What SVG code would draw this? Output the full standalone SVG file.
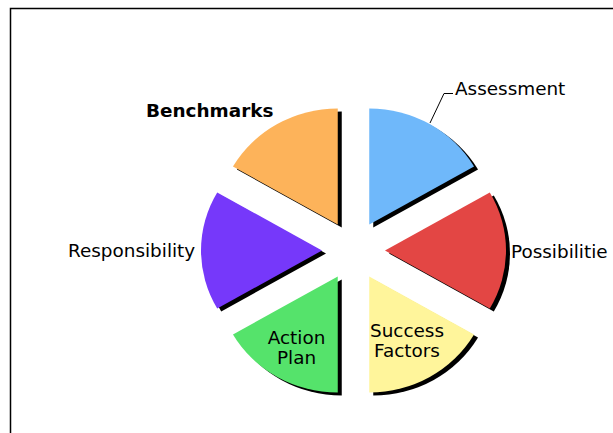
<svg xmlns="http://www.w3.org/2000/svg" xmlns:xlink="http://www.w3.org/1999/xlink" width="613" height="433" viewBox="0 0 613 433">
<style>
  .lbl { font-family: "DejaVu Sans", Verdana, sans-serif; font-size: 18.4px; fill: #000; }
  .bold { font-weight: bold; }
  .shadow { fill: #000; }
  .leader { fill: none; stroke: #000; stroke-width: 1; }
</style>
<defs>
  <path id="w-blue" d="M369.25 224.5 L369.25 108.5 A121 116 0 0 1 474.04 166.5 Z"/>
  <path id="w-red" d="M385 250.5 L489.79 192.5 A121 116 0 0 1 489.79 308.5 Z"/>
  <path id="w-yellow" d="M369.25 276.5 L474.04 334.5 A121 116 0 0 1 369.25 392.5 Z"/>
  <path id="w-green" d="M337.75 276.5 L337.75 392.5 A121 116 0 0 1 232.96 334.5 Z"/>
  <path id="w-purple" d="M322 250.5 L217.21 308.5 A121 116 0 0 1 217.21 192.5 Z"/>
  <path id="w-orange" d="M337.75 224.5 L232.96 166.5 A121 116 0 0 1 337.75 108.5 Z"/>
</defs>
<rect x="0" y="0" width="613" height="433" fill="#fff"/>
<rect x="10.5" y="8.5" width="700" height="500" fill="none" stroke="#000" stroke-width="1.5"/>
<g id="node-assessment">
  <use xlink:href="#w-blue" class="shadow" transform="translate(4,3)"/>
  <use xlink:href="#w-blue" fill="#6FB8FA"/>
  <text class="lbl" x="455" y="95">Assessment</text>
</g>
<g id="node-possibilities">
  <use xlink:href="#w-red" class="shadow" transform="translate(4,3)"/>
  <use xlink:href="#w-red" fill="#E34644"/>
  <text class="lbl" x="511" y="258">Possibilitie</text>
</g>
<g id="node-success">
  <use xlink:href="#w-yellow" class="shadow" transform="translate(4,3)"/>
  <use xlink:href="#w-yellow" fill="#FFF59B"/>
  <text class="lbl" x="407" y="337" text-anchor="middle">Success</text>
  <text class="lbl" x="407" y="357" text-anchor="middle">Factors</text>
</g>
<g id="node-action">
  <use xlink:href="#w-green" class="shadow" transform="translate(4,3)"/>
  <use xlink:href="#w-green" fill="#55E36B"/>
  <text class="lbl" x="296.5" y="344" text-anchor="middle">Action</text>
  <text class="lbl" x="296.5" y="364" text-anchor="middle">Plan</text>
</g>
<g id="node-responsibility">
  <use xlink:href="#w-purple" class="shadow" transform="translate(4,3)"/>
  <use xlink:href="#w-purple" fill="#7638FA"/>
  <text class="lbl" x="68" y="257">Responsibility</text>
</g>
<g id="node-benchmarks">
  <use xlink:href="#w-orange" class="shadow" transform="translate(4,3)"/>
  <use xlink:href="#w-orange" fill="#FDB35A"/>
  <text class="lbl bold" x="146" y="117">Benchmarks</text>
</g>
<g id="connectors">
  <polyline class="leader" points="453,93.5 444,93.5 430,123"/>
</g>
</svg>
